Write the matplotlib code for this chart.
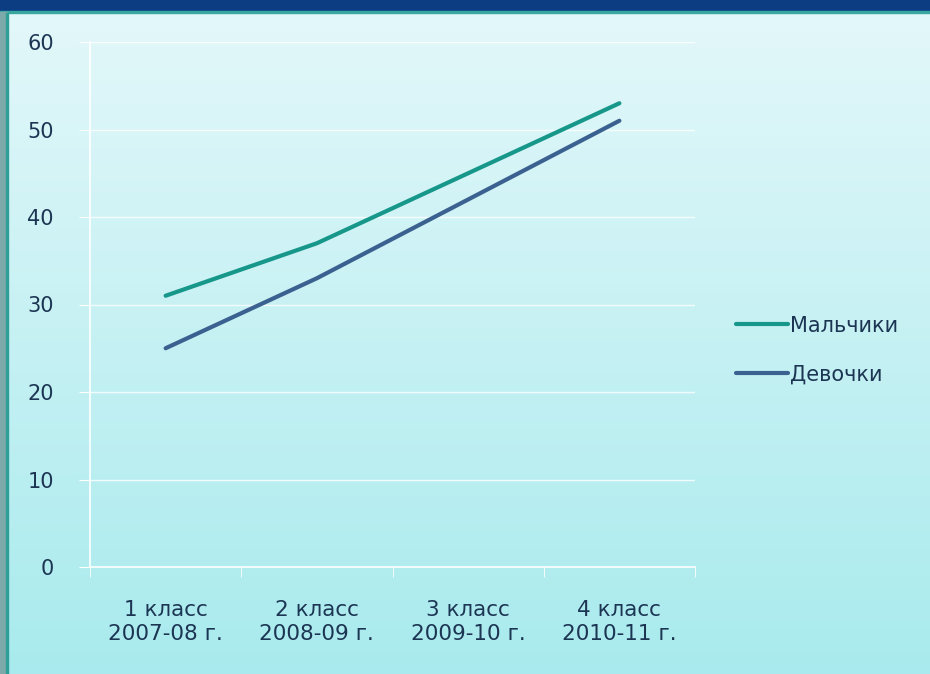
import matplotlib.pyplot as plt
import numpy as np
from matplotlib.patches import Rectangle

# ===== Data =====
categories = ["1 класс\n2007-08 г.", "2 класс\n2008-09 г.",
              "3 класс\n2009-10 г.", "4 класс\n2010-11 г."]
boys = [31, 37, 45, 53]
girls = [25, 33, 42, 51]
y_ticks = [0, 10, 20, 30, 40, 50, 60]

# ===== Styling =====
text_color = "#1c3553"
boys_color = "#16978a"
girls_color = "#3b6190"
W, H = 930, 674

fig = plt.figure(figsize=(9.3, 6.74), dpi=100)

# ===== Slide background =====
bg = fig.add_axes([0, 0, 1, 1], zorder=0)
bg.set_xlim(0, W)
bg.set_ylim(H, 0)
bg.axis("off")
grad = np.linspace(0, 1, 256).reshape(-1, 1)
top_c = np.array([0.89, 0.97, 0.98])
bot_c = np.array([0.66, 0.92, 0.93])
img = top_c + (bot_c - top_c) * grad[:, :, None]
bg.imshow(img, extent=[8, W, H, 13], aspect="auto")
bg.add_patch(Rectangle((0, 0), W, 12, color="#0c3c82"))
bg.add_patch(Rectangle((0, 11), W, 2, color="#3aa6a0"))
bg.add_patch(Rectangle((0, 12), 7, H, color="#7ea9aa"))
bg.add_patch(Rectangle((6, 13), 2, H, color="#2f9e96"))

# ===== Chart axes =====
ax = fig.add_axes([90 / W, 1 - 567 / H, 605 / W, 525 / H], zorder=1)
ax.patch.set_alpha(0)
x = np.arange(len(categories))
ax.plot(x, boys, color=boys_color, linewidth=3, solid_capstyle="round", label="Мальчики")
ax.plot(x, girls, color=girls_color, linewidth=3, solid_capstyle="round", label="Девочки")

ax.set_xlim(-0.5, 3.5)
ax.set_ylim(0, 60)
ax.set_yticks(y_ticks)
ax.set_yticklabels([str(v) for v in y_ticks], fontsize=15, color=text_color)
ax.set_xticks(x)
ax.set_xticklabels(categories, fontsize=15.5, color=text_color, linespacing=1.2)
ax.set_xticks(np.arange(-0.5, 4, 1), minor=True)

for v in y_ticks[1:]:
    ax.axhline(v, color="white", linewidth=1, alpha=0.8, zorder=0)

for s in ["top", "right"]:
    ax.spines[s].set_visible(False)
for s in ["left", "bottom"]:
    ax.spines[s].set_color("white")
    ax.spines[s].set_linewidth(1.2)

ax.tick_params(axis="y", length=8, color="white", pad=18)
ax.tick_params(axis="x", which="major", length=0, pad=24)
ax.tick_params(axis="x", which="minor", length=7, color="white")

# ===== Legend =====
ax.legend(loc="center left", bbox_to_anchor=(1.036, 0.413), frameon=False,
          fontsize=15, labelcolor=text_color, handlelength=2.5,
          handletextpad=0.1, labelspacing=1.4)

plt.savefig("out.png", dpi=100)
